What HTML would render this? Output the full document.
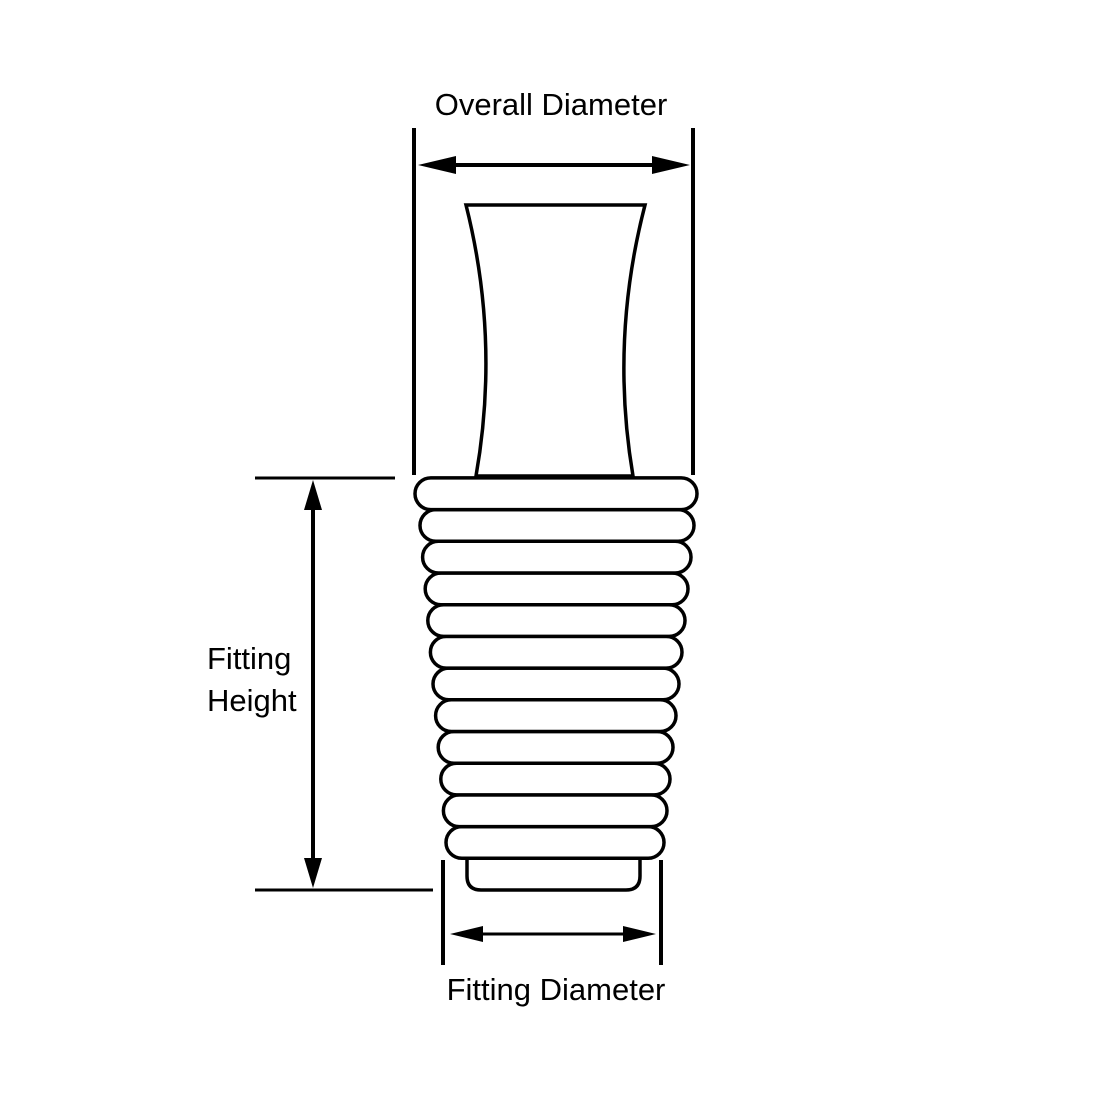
<!DOCTYPE html>
<html><head><style>body{margin:0;background:#fff}svg{display:block}</style></head>
<body>
<svg width="1100" height="1100" viewBox="0 0 1100 1100" xmlns="http://www.w3.org/2000/svg">
<g font-family="Liberation Sans, sans-serif" font-size="31" fill="#000">
<text x="551" y="115" text-anchor="middle">Overall Diameter</text>
<text x="207" y="669">Fitting</text>
<text x="207" y="711">Height</text>
<text x="556" y="1000" text-anchor="middle">Fitting Diameter</text>
</g>
<g stroke="#000" stroke-width="4" fill="none">
<line x1="414" y1="128" x2="414" y2="475"/>
<line x1="693" y1="128" x2="693" y2="475"/>
<line x1="430" y1="165" x2="678" y2="165"/>
<path d="M466,205 L645,205 Q610,340 633,476 L476,476 Q500,340 466,205 Z" fill="#fff" stroke-width="3.5"/>
<line x1="255" y1="478" x2="395" y2="478" stroke-width="3"/>
<line x1="255" y1="890" x2="433" y2="890" stroke-width="3"/>
<line x1="313" y1="500" x2="313" y2="870"/>
<line x1="443" y1="860" x2="443" y2="965"/>
<line x1="661" y1="860" x2="661" y2="965"/>
<line x1="465" y1="934" x2="640" y2="934" stroke-width="3"/>
<path d="M467,850 L467,876 Q467,890 481,890 L626,890 Q640,890 640,876 L640,850" fill="#fff" stroke-width="3.5"/>
</g>
<g fill="#000">
<polygon points="418,165 456,156 456,174"/>
<polygon points="690,165 652,156 652,174"/>
<polygon points="313,480 304,510 322,510"/>
<polygon points="313,888 304,858 322,858"/>
<polygon points="450,934 483,926 483,942"/>
<polygon points="656,934 623,926 623,942"/>
</g>
<g stroke="#000" stroke-width="3.5" fill="#fff">
<rect x="446" y="826.6" width="218" height="31.7" rx="15.8"/>
<rect x="443.4" y="794.9" width="223.6" height="31.7" rx="15.8"/>
<rect x="440.8" y="763.2" width="229.2" height="31.7" rx="15.8"/>
<rect x="438.2" y="731.5" width="234.8" height="31.7" rx="15.8"/>
<rect x="435.6" y="699.8" width="240.4" height="31.7" rx="15.8"/>
<rect x="433" y="668.1" width="246" height="31.7" rx="15.8"/>
<rect x="430.4" y="636.4" width="251.6" height="31.7" rx="15.8"/>
<rect x="427.8" y="604.7" width="257.2" height="31.7" rx="15.8"/>
<rect x="425.2" y="573" width="262.8" height="31.7" rx="15.8"/>
<rect x="422.6" y="541.3" width="268.4" height="31.7" rx="15.8"/>
<rect x="420" y="509.6" width="274" height="31.7" rx="15.8"/>
<rect x="415" y="477.9" width="282" height="31.7" rx="15.8"/>
</g>
</svg>
</body></html>
